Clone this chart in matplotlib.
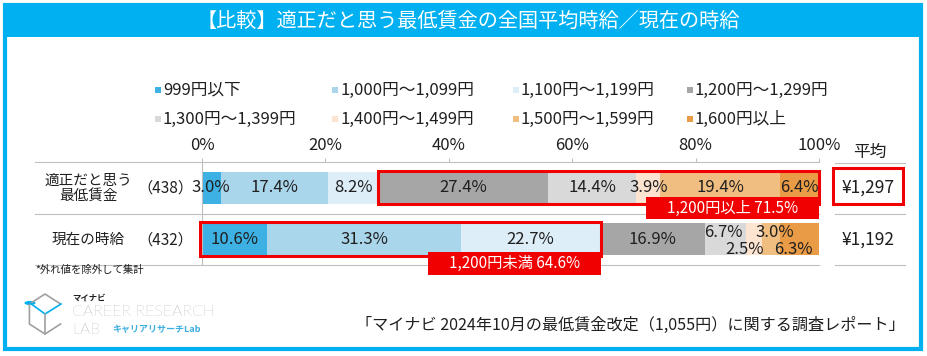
import matplotlib.pyplot as plt
import numpy as np
from matplotlib.patches import Rectangle, Circle
from matplotlib.lines import Line2D

plt.rcParams["font.family"] = ["Noto Sans CJK JP", "DejaVu Sans"]

# data
TITLE = "【比較】適正だと思う最低賃金の全国平均時給／現在の時給"
CATEGORIES = [
    "999円以下",
    "1,000円～1,099円",
    "1,100円～1,199円",
    "1,200円～1,299円",
    "1,300円～1,399円",
    "1,400円～1,499円",
    "1,500円～1,599円",
    "1,600円以上",
]
COLORS = ["#3DB1E3", "#A9D6EB", "#DDEEF8", "#A6A6A6",
          "#D9D9D9", "#FCE4D0", "#F1BE81", "#EA9B45"]
ROW_LABELS = ["適正だと思う\n最低賃金", "現在の時給"]
ROW_N = [438, 432]
ROW_AVG = [1297, 1192]
fair_wage = [3.0, 17.4, 8.2, 27.4, 14.4, 3.9, 19.4, 6.4]
current_wage = [10.6, 31.3, 22.7, 16.9, 6.7, 2.5, 3.0, 6.3]
TICKS = [0, 20, 40, 60, 80, 100]
NOTE = "*外れ値を除外して集計"
SOURCE = "「マイナビ 2024年10月の最低賃金改定（1,055円）に関する調査レポート」"

W, H = 927, 356
CYAN = "#00B0F0"
RED = "#F00000"
GRID = "#BFBFBF"
TXT = "#1F1F1F"


def fx(px):
    return px / W


def fy(py):
    return 1 - py / H


fig = plt.figure(figsize=(W / 100, H / 100), dpi=100)

# outer frame and title band
fig.add_artist(Rectangle((fx(5), fy(349)), fx(916), 344 / H, transform=fig.transFigure,
                         fill=False, edgecolor=CYAN, lw=3))
fig.add_artist(Rectangle((fx(4), fy(37)), fx(918), 34 / H, transform=fig.transFigure,
                         facecolor=CYAN, edgecolor="none"))
fig.text(fx(468), fy(21), TITLE, color="white", fontsize=14.5, ha="center", va="center")

# legend (two rows of four)
leg_x = [155, 332, 513, 687]
leg_y = [90, 119]
for i, (lab, col) in enumerate(zip(CATEGORIES, COLORS)):
    x = leg_x[i % 4]
    y = leg_y[i // 4]
    fig.add_artist(Rectangle((fx(x), fy(y + 3)), fx(6), 6 / H, transform=fig.transFigure,
                             facecolor=col, edgecolor="none"))
    fig.text(fx(x + 8), fy(y), lab, fontsize=12, color=TXT, va="center", ha="left")

# bars
ax = fig.add_axes([fx(202), fy(265), fx(617), 103 / H])
rows = [fair_wage, current_wage]
ypos = np.arange(len(rows))
data = np.array(rows)
left = np.zeros(len(rows))
for j, col in enumerate(COLORS):
    ax.barh(ypos, data[:, j], left=left, height=0.62, color=col, edgecolor="none")
    left += data[:, j]

ax.set_xlim(0, 100)
ax.set_ylim(1.5, -0.5)
ax.xaxis.tick_top()
ax.set_xticks(TICKS)
ax.set_xticklabels([f"{t}%" for t in TICKS], fontsize=12, color=TXT)
ax.tick_params(axis="x", length=3, color=GRID, pad=3)
ax.set_yticks([])
for s in ["top", "right", "bottom"]:
    ax.spines[s].set_visible(False)
ax.spines["left"].set_color(GRID)
ax.spines["left"].set_linewidth(0.8)
ax.set_facecolor("none")

# horizontal separators extending to the row labels
x_left = (35 - 202) / 617 * 100
for yl in [-0.5, 0.5, 1.5]:
    ax.plot([x_left, 100], [yl, yl], color=GRID, lw=0.8, clip_on=False, zorder=0)

# value labels (px nudges for crowded small segments)
nudge = {(1, 4): (-2, -7), (1, 5): (-9, 10), (1, 6): (4, -7), (1, 7): (-6, 10)}
px_x = 617 / 100
px_y = 103 / 2
for i, row in enumerate(rows):
    cum = 0
    for j, v in enumerate(row):
        dx, dy = nudge.get((i, j), (0, 0))
        ax.text(cum + v / 2 + dx / px_x, i + dy / px_y, f"{v:.1f}%", ha="center",
                va="center", fontsize=12, color=TXT, zorder=5)
        cum += v

# highlight boxes
above = sum(fair_wage[3:])
below = sum(current_wage[:3])
start_above = sum(fair_wage[:3])
ax.add_patch(Rectangle((start_above, -0.32), 100 - start_above, 0.64, fill=False,
                       edgecolor=RED, lw=2.2, clip_on=False, zorder=6))
ax.add_patch(Rectangle((100 - 28, 0.175), 28, 0.44, facecolor=RED, edgecolor="none",
                       clip_on=False, zorder=7))
ax.text(100 - 14, 0.395, f"1,200円以上 {above:.1f}%", color="white", fontsize=11,
        ha="center", va="center", zorder=8)

ax.add_patch(Rectangle((-0.3, 1 - 0.33), below + 0.3, 0.66, fill=False,
                       edgecolor=RED, lw=2.2, clip_on=False, zorder=6))
ax.add_patch(Rectangle((below - 28, 1.25), 28, 0.44, facecolor=RED, edgecolor="none",
                       clip_on=False, zorder=7))
ax.text(below - 14, 1.47, f"1,200円未満 {below:.1f}%", color="white", fontsize=11,
        ha="center", va="center", zorder=8)

# row labels and sample sizes
row_py = [188, 240]
for lab, n, py in zip(ROW_LABELS, ROW_N, row_py):
    fig.text(fx(88), fy(py), lab, ha="center", va="center", fontsize=10.5, color=TXT,
             linespacing=1.1)
    fig.text(fx(165), fy(py), f"（{n}）", ha="center", va="center", fontsize=11, color=TXT)

# average column
fig.text(fx(870), fy(152), "平均", ha="center", va="center", fontsize=12, color=TXT)
for py in [163, 214, 265]:
    fig.add_artist(Line2D([fx(835), fx(905)], [fy(py), fy(py)], color=GRID, lw=0.8))
for avg, py in zip(ROW_AVG, row_py):
    fig.text(fx(868), fy(py), f"¥{avg:,}", ha="center", va="center", fontsize=12.5, color=TXT)
fig.add_artist(Rectangle((fx(833), fy(204)), fx(70), 36 / H, transform=fig.transFigure,
                         fill=False, edgecolor=RED, lw=2.2))

# footnote and source
fig.text(fx(35), fy(270), NOTE, fontsize=7.5, color=TXT, va="center", ha="left")
fig.text(fx(905), fy(325), SOURCE, fontsize=11.6, color=TXT, va="center", ha="right")

# logo (simplified)
hx, hy = 45, 314
ang = np.deg2rad(np.arange(30, 390, 60))
hex_x = hx + 18 * np.cos(ang)
hex_y = hy + 20 * np.sin(ang)
fig.add_artist(Line2D(fx(hex_x), fy(hex_y), color="#A0A0A0", lw=1.2))
fig.add_artist(Line2D([fx(30), fx(hx), fx(hx + 16)], [fy(303), fy(hy), fy(hy - 10)],
                      color=CYAN, lw=1.2))
fig.add_artist(Line2D([fx(hx), fx(hx)], [fy(hy), fy(hy + 20)], color="#A0A0A0", lw=1.2))
fig.add_artist(Circle((fx(30), fy(303)), 5.5 / W, transform=fig.transFigure,
                      facecolor=CYAN, edgecolor="none"))
fig.text(fx(72), fy(298), "マイナビ", fontsize=6, fontweight="bold", color="#222222",
         va="center", ha="left")
fig.text(fx(72), fy(312), "CAREER RESEARCH", fontsize=11.5, color="#8C8C8C",
         va="center", ha="left", family=["Lato", "DejaVu Sans"], fontweight="light")
fig.text(fx(72), fy(330), "LAB", fontsize=11.5, color="#8C8C8C", va="center", ha="left",
         family=["Lato", "DejaVu Sans"], fontweight="light")
fig.text(fx(112), fy(330), "キャリアリサーチLab", fontsize=6.5, fontweight="bold",
         color="#3DAEE0", va="center", ha="left")

fig.savefig("out.png", dpi=100)
